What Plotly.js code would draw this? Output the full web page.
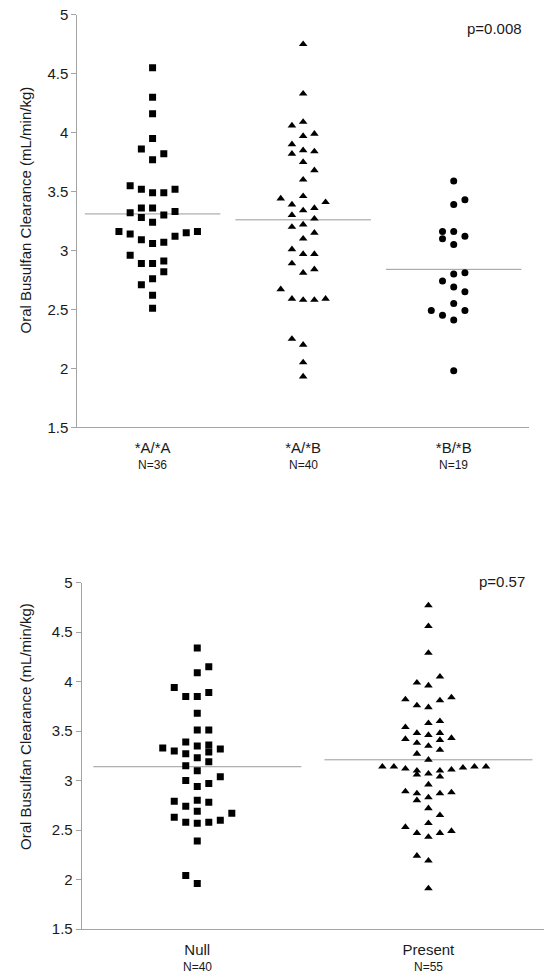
<!DOCTYPE html>
<html>
<head>
<meta charset="utf-8">
<script src="https://cdn.plot.ly/plotly-3.0.1.min.js"></script>
<style>html,body{margin:0;padding:0;background:#fff;}#chart{width:553px;height:973px;}</style>
</head>
<body>
<div id="chart"></div>
<script>
// ---- Top panel: genotype groups ----
const catsTop = ['*A/*A', '*A/*B', '*B/*B'];
const nTop = ['N=36', 'N=40', 'N=19'];
const meansTop = [3.31, 3.26, 2.84];
const pTop = 'p=0.008';

const aaValues = [4.55, 4.30, 4.16, 3.95, 3.86, 3.82, 3.77, 3.55, 3.52, 3.49, 3.49, 3.52, 3.36, 3.36, 3.32, 3.33, 3.28, 3.30, 3.24, 3.16, 3.14, 3.09, 3.06, 3.07, 3.12, 3.15, 3.16, 2.96, 2.89, 2.89, 2.91, 2.82, 2.76, 2.71, 2.62, 2.51];
const aaSlots = [0, 0, 0, 0, -1, 1, 0, -2, -1, 0, 1, 2, -1, 0, -2, 2, -1, 1, 0, -3, -2, -1, 0, 1, 2, 3, 4, -2, -1, 0, 1, 1, 0, -1, 0, 0];

const abValues = [4.75, 4.33, 4.06, 4.09, 3.97, 3.99, 3.90, 3.82, 3.85, 3.84, 3.75, 3.68, 3.60, 3.44, 3.46, 3.41, 3.39, 3.34, 3.36, 3.30, 3.27, 3.20, 3.22, 3.15, 3.10, 3.01, 2.97, 2.97, 2.89, 2.81, 2.84, 2.67, 2.59, 2.58, 2.58, 2.59, 2.25, 2.20, 2.05, 1.93];
const abSlots = [0, 0, -1, 0, 0, 1, -1, -1, 0, 1, 0, 1, 0, -2, 0, 2, -1, 0, 1, -1, 1, -1, 0, 1, 0, -1, 0, 1, -1, 0, 1, -2, -1, 0, 1, 2, -1, 0, 0, 0];

const bbValues = [3.59, 3.43, 3.39, 3.16, 3.16, 3.10, 3.12, 3.05, 2.80, 2.81, 2.74, 2.69, 2.65, 2.55, 2.49, 2.45, 2.49, 2.41, 1.98];
const bbSlots = [0, 1, 0, -1, 0, -1, 1, 0, 0, 1, -1, 0, 1, 0, -2, -1, 1, 0, 0];

// ---- Bottom panel: Null vs Present ----
const catsBottom = ['Null', 'Present'];
const nBottom = ['N=40', 'N=55'];
const meansBottom = [3.14, 3.21];
const pBottom = 'p=0.57';

const nullValues = [4.34, 4.15, 4.09, 3.94, 3.85, 3.85, 3.89, 3.68, 3.51, 3.51, 3.39, 3.33, 3.30, 3.35, 3.36, 3.32, 3.27, 3.29, 3.23, 3.19, 3.15, 3.10, 3.04, 3.00, 2.94, 2.97, 2.79, 2.80, 2.78, 2.74, 2.69, 2.67, 2.63, 2.58, 2.57, 2.58, 2.60, 2.39, 2.04, 1.96];
const nullSlots = [0, 1, 0, -2, -1, 0, 1, 0, 0, 1, -1, -3, -2, 0, 1, 2, -1, 1, 0, 1, -1, 0, 2, -1, 0, 1, -2, 0, 1, -1, 0, 3, -2, -1, 0, 1, 2, 0, -1, 0];

const presValues = [4.77, 4.56, 4.29, 4.05, 3.99, 3.96, 3.82, 3.84, 3.81, 3.76, 3.74, 3.58, 3.60, 3.54, 3.48, 3.46, 3.48, 3.42, 3.38, 3.35, 3.41, 3.43, 3.31, 3.27, 3.21, 3.14, 3.14, 3.12, 3.10, 3.06, 3.07, 3.10, 3.04, 3.11, 3.13, 3.14, 3.14, 2.96, 2.89, 2.87, 2.80, 2.83, 2.87, 2.88, 2.72, 2.65, 2.57, 2.53, 2.47, 2.43, 2.47, 2.49, 2.24, 2.19, 1.91];
const presSlots = [0, 0, 0, 1, -1, 0, -2, 2, 1, -1, 0, 0, 1, -2, -1, 0, 1, -2, -1, 0, 1, 2, 1, -1, 0, -4, -3, -2, -1, -1, 0, 1, 1, 2, 3, 4, 5, 0, -2, -1, -1, 0, 1, 2, 0, 1, 0, -2, -1, 0, 1, 2, -1, 0, 0];

const yTitle = 'Oral Busulfan Clearance (mL/min/kg)';

// ---- layout constants ----
const W = 553, H = 973;
const STEP_TOP = 0.0745, STEP_BOT = 0.0498, HALF = 0.45;
const FONT = 'Arial, "Liberation Sans", Helvetica, sans-serif';
const AX = '#a3a3a3';

function dots(values, slots, cat, step, symbol, size, xa, ya) {
  return {
    type: 'scatter', mode: 'markers', xaxis: xa, yaxis: ya,
    x: slots.map(s => cat + s * step), y: values,
    marker: {symbol: symbol, size: size, color: '#000', line: {width: 0}},
    hoverinfo: 'y'
  };
}
function meanLine(m, cat, xa, ya) {
  return {
    type: 'scatter', mode: 'lines', xaxis: xa, yaxis: ya,
    x: [cat - HALF, cat + HALF], y: [m, m],
    line: {color: '#9a9a9a', width: 1}, hoverinfo: 'skip'
  };
}

const traces = [];
meansTop.forEach((m, i) => traces.push(meanLine(m, i + 1, 'x', 'y')));
meansBottom.forEach((m, i) => traces.push(meanLine(m, i + 1, 'x2', 'y2')));
traces.push(dots(aaValues, aaSlots, 1, STEP_TOP, 'square', 7, 'x', 'y'));
traces.push(dots(abValues, abSlots, 2, STEP_TOP, 'triangle-up', 7.5, 'x', 'y'));
traces.push(dots(bbValues, bbSlots, 3, STEP_TOP, 'circle', 7, 'x', 'y'));
traces.push(dots(nullValues, nullSlots, 1, STEP_BOT, 'square', 7, 'x2', 'y2'));
traces.push(dots(presValues, presSlots, 2, STEP_BOT, 'triangle-up', 7.5, 'x2', 'y2'));

function xAxis(dom, cats, anchor) {
  return {
    domain: dom, anchor: anchor, range: [0.5, cats.length + 0.5],
    tickvals: cats.map((c, i) => i + 1), ticktext: cats,
    showgrid: false, zeroline: false, showline: true, linecolor: AX, linewidth: 1,
    ticks: '', ticklabelstandoff: 7,
    tickfont: {family: FONT, size: 15, color: '#1a1a1a'}, fixedrange: true
  };
}
function yAxis(dom, anchor) {
  return {
    domain: dom, anchor: anchor, range: [1.5, 5], dtick: 0.5, tick0: 1.5,
    showgrid: false, zeroline: false, showline: true, linecolor: AX, linewidth: 1,
    ticks: 'outside', ticklen: 5, tickcolor: AX, tickwidth: 1,
    tickfont: {family: FONT, size: 15, color: '#1a1a1a'}, fixedrange: true
  };
}

const annotations = [];
nTop.forEach((t, i) => annotations.push({
  text: t, xref: 'x', yref: 'y domain', x: i + 1, y: 0, yshift: -38,
  showarrow: false, xanchor: 'center', yanchor: 'middle',
  font: {family: FONT, size: 12, color: '#1a1a1a'}
}));
nBottom.forEach((t, i) => annotations.push({
  text: t, xref: 'x2', yref: 'y2 domain', x: i + 1, y: 0, yshift: -38,
  showarrow: false, xanchor: 'center', yanchor: 'middle',
  font: {family: FONT, size: 12, color: '#1a1a1a'}
}));
annotations.push({text: pTop, xref: 'paper', yref: 'paper', x: 494.5 / W, y: 1 - 28.3 / H,
  showarrow: false, xanchor: 'center', yanchor: 'middle', font: {family: FONT, size: 15, color: '#1a1a1a'}});
annotations.push({text: pBottom, xref: 'paper', yref: 'paper', x: 502 / W, y: 1 - 581.7 / H,
  showarrow: false, xanchor: 'center', yanchor: 'middle', font: {family: FONT, size: 15, color: '#1a1a1a'}});
annotations.push({text: yTitle, xref: 'paper', yref: 'paper', x: 25 / W, y: 1 - 210.5 / H, textangle: -90,
  showarrow: false, xanchor: 'center', yanchor: 'middle', font: {family: FONT, size: 15, color: '#1a1a1a'}});
annotations.push({text: yTitle, xref: 'paper', yref: 'paper', x: 25 / W, y: 1 - 727 / H, textangle: -90,
  showarrow: false, xanchor: 'center', yanchor: 'middle', font: {family: FONT, size: 15, color: '#1a1a1a'}});

const layout = {
  width: W, height: H, margin: {l: 0, r: 0, t: 0, b: 0},
  paper_bgcolor: '#fff', plot_bgcolor: '#fff', showlegend: false,
  font: {family: FONT, color: '#1a1a1a'},
  xaxis: xAxis([77.3 / W, 529 / W], catsTop, 'y'),
  yaxis: yAxis([1 - 427.3 / H, 1 - 14.7 / H], 'x'),
  xaxis2: xAxis([81.7 / W, 544 / W], catsBottom, 'y2'),
  yaxis2: yAxis([1 - 929 / H, 1 - 582.7 / H], 'x2'),
  annotations: annotations
};

Plotly.newPlot('chart', traces, layout, {displayModeBar: false, staticPlot: true});
</script>
</body>
</html>
